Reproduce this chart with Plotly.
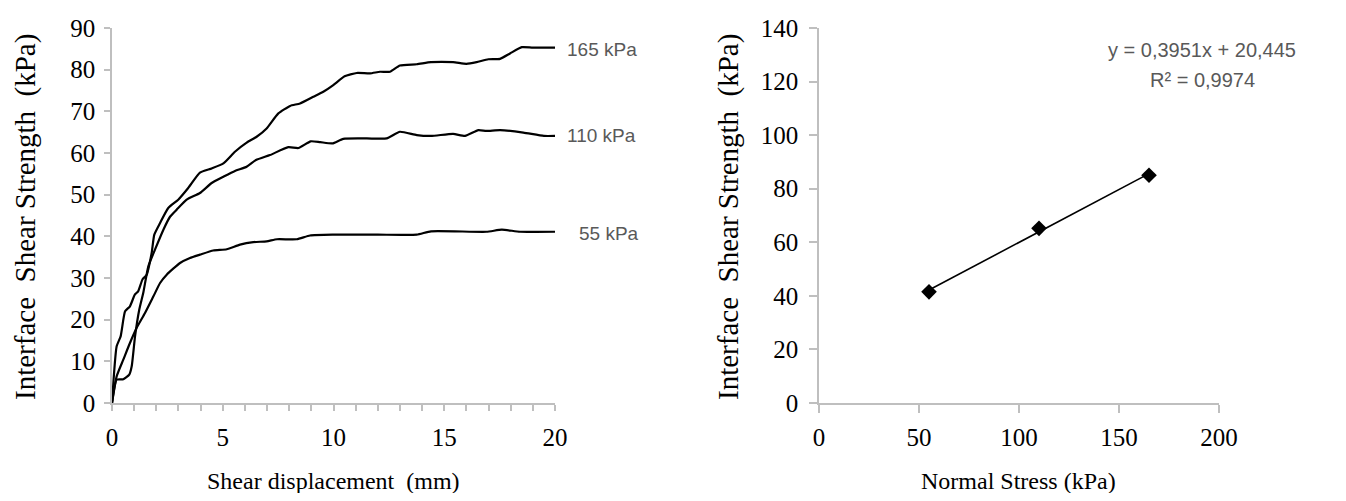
import plotly.graph_objects as go

# ---- Left chart data: shear displacement (mm) vs interface shear strength (kPa)
s165_x = [0, 0.21, 0.39, 0.59, 0.81, 1.03, 1.18, 1.38, 1.56, 1.79, 1.91, 2.17, 2.54, 2.99, 3.44,
          3.97, 4.5, 5.03, 5.55, 6.08, 6.53, 6.98, 7.51, 8.04, 8.49, 9.09, 9.54, 9.99, 10.5,
          11.05, 11.65, 12.1, 12.55, 13.0, 13.76, 14.4, 15.4, 16.0, 16.46, 16.99, 17.52, 17.97,
          18.5, 19.0, 20.0]
s165_y = [0, 13.6, 16, 22, 23.2, 26, 26.8, 29.7, 30.7, 36, 40.4, 43.2, 46.8, 48.8, 51.6,
          55.3, 56.3, 57.5, 60.3, 62.5, 63.9, 65.9, 69.5, 71.3, 71.9, 73.5, 74.7, 76.3, 78.4,
          79.2, 79.1, 79.5, 79.5, 81.0, 81.3, 81.8, 81.8, 81.4, 81.8, 82.5, 82.6, 83.9,
          85.4, 85.3, 85.3]

s110_x = [0, 0.21, 0.51, 0.78, 0.89, 1.04, 1.23, 1.41, 1.64, 1.94, 2.32, 2.62, 2.92, 3.37,
          3.97, 4.5, 5.03, 5.55, 6.08, 6.5, 7.13, 7.96, 8.42, 8.97, 9.4, 9.95, 10.44, 11.5,
          12.4, 13.0, 13.76, 14.4, 15.4, 15.94, 16.54, 16.9, 17.52, 18.57, 19.5, 20.0]
s110_y = [0, 5.6, 5.7, 6.8, 8.8, 16, 22.4, 26.4, 32.8, 36.8, 41.6, 44.7, 46.4, 48.8,
          50.4, 52.8, 54.3, 55.7, 56.7, 58.3, 59.5, 61.4, 61.2, 62.8, 62.6, 62.3, 63.4, 63.5,
          63.5, 65.1, 64.3, 64.1, 64.6, 64.1, 65.5, 65.3, 65.5, 64.9, 64.1, 64.1]

s55_x = [0, 0.21, 0.51, 0.81, 1.11, 1.49, 1.87, 2.17, 2.47, 3.07, 3.52, 3.97, 4.57, 5.18,
         5.78, 6.38, 6.98, 7.45, 8.34, 8.94, 10.0, 12.0, 13.76, 14.4, 16.9, 17.6, 18.42, 20.0]
s55_y = [0, 6.4, 10.4, 14.4, 18, 21.6, 25.6, 28.8, 30.8, 33.6, 34.8, 35.6, 36.6, 36.9,
         38.0, 38.6, 38.8, 39.3, 39.3, 40.2, 40.4, 40.4, 40.4, 41.2, 41.1, 41.6, 41.1, 41.1]

curve_labels = ["165 kPa", "110 kPa", "55 kPa"]

# ---- Right chart data: normal stress vs peak shear strength
normal_stress = [55, 110, 165]
peak_strength = [41.5, 65.2, 85.0]
trend_slope = 0.3951
trend_intercept = 20.445
eq_text = "y = 0,3951x + 20,445"
r2_text = "R² = 0,9974"

left_xticks = [0, 5, 10, 15, 20]
left_yticks = [0, 10, 20, 30, 40, 50, 60, 70, 80, 90]
right_xticks = [0, 50, 100, 150, 200]
right_yticks = [0, 20, 40, 60, 80, 100, 120, 140]

# The page body has an 8px margin: size the figure to fit the window exactly
PAGE_W, PAGE_H, OFF = 1346, 501, 8
W, H = PAGE_W - 2 * OFF, PAGE_H - 2 * OFF


def px(x):
    return (x - OFF) / W


def py(y):
    return (H - (y - OFF)) / H


SERIF = "Liberation Serif, Times New Roman, serif"
SANS = "Liberation Sans, Arial, sans-serif"
AX = "#BFBFBF"

fig = go.Figure()
for xs, ys in [(s165_x, s165_y), (s110_x, s110_y), (s55_x, s55_y)]:
    fig.add_trace(go.Scatter(x=xs, y=ys, mode="lines", xaxis="x", yaxis="y",
                             line=dict(color="black", width=2.2, shape="spline", smoothing=0.5),
                             showlegend=False, hoverinfo="skip"))

tx = [normal_stress[0], normal_stress[-1]]
ty = [trend_slope * v + trend_intercept for v in tx]
fig.add_trace(go.Scatter(x=tx, y=ty, mode="lines", xaxis="x2", yaxis="y2",
                         line=dict(color="black", width=1.6), showlegend=False))
fig.add_trace(go.Scatter(x=normal_stress, y=peak_strength, mode="markers", xaxis="x2", yaxis="y2",
                         marker=dict(symbol="diamond", size=12, color="black"), showlegend=False))

ydom = [py(403), py(28)]
axis_common = dict(showgrid=False, zeroline=False, showline=True, linecolor=AX, linewidth=1.5,
                   ticks="outside", tickcolor=AX, tickwidth=1.5, automargin=False,
                   tickfont=dict(family=SERIF, size=25, color="black"))

fig.update_layout(
    width=W, height=H, margin=dict(l=0, r=0, t=0, b=0, autoexpand=False),
    plot_bgcolor="white", paper_bgcolor="white",
    xaxis=dict(domain=[px(112), px(555)], range=[0, 20], tickvals=left_xticks, ticklen=6,
               ticklabelstandoff=5,
               minor=dict(dtick=1, ticks="outside", ticklen=6, tickcolor=AX, tickwidth=1.5),
               anchor="y", **axis_common),
    yaxis=dict(domain=ydom, range=[0, 90], tickvals=left_yticks, ticklen=6,
               ticklabelstandoff=4, anchor="x", **axis_common),
    xaxis2=dict(domain=[px(819), px(1219)], range=[0, 200], tickvals=right_xticks, ticklen=8,
                ticklabelstandoff=3, anchor="y2", **axis_common),
    yaxis2=dict(domain=ydom, range=[0, 140], tickvals=right_yticks, ticklen=8,
                ticklabelstandoff=6, anchor="x2", **axis_common),
)

ann = []
title_font = dict(family=SERIF, size=24, color="black")
ann.append(dict(text="Shear displacement\u00a0\u00a0(mm)", x=px(333), y=py(481), font=title_font))
ann.append(dict(text="Normal Stress (kPa)", x=px(1019), y=py(481), font=title_font))
ytitle_font = dict(family=SERIF, size=29, color="black")
ann.append(dict(text="Interface\u00a0\u00a0Shear Strength\u00a0\u00a0(kPa)", x=px(25), y=py(217),
                textangle=-90, font=ytitle_font))
ann.append(dict(text="Interface\u00a0\u00a0Shear Strength\u00a0\u00a0(kPa)", x=px(728), y=py(217),
                textangle=-90, font=ytitle_font))

lab_font = dict(family=SANS, size=19, color="#595959")
for txt, xp, yp in zip(curve_labels, [565, 565, 577], [49, 136, 233]):
    ann.append(dict(text=txt, x=px(xp), y=py(yp), xanchor="left", font=lab_font))

eq_font = dict(family=SANS, size=20, color="#595959")
ann.append(dict(text=eq_text, x=px(1202), y=py(50), font=eq_font))
ann.append(dict(text=r2_text, x=px(1202), y=py(80), font=eq_font))

for a in ann:
    a.setdefault("xanchor", "center")
    a.update(xref="paper", yref="paper", yanchor="middle", showarrow=False)
fig.update_layout(annotations=ann)

fig.write_html("out.html")
